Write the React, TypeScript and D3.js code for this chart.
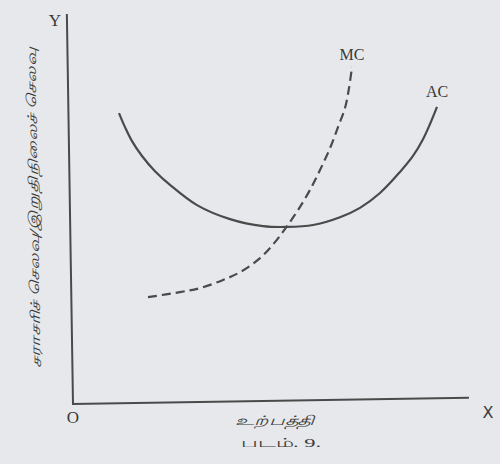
import React from "react";
import * as d3 from "d3";

// Average cost (AC) curve: [output, cost]
const acX = [11.5, 13, 14.75, 17.25, 20.5, 24.25, 31, 39.25, 47.5, 53.5, 60, 66.75, 71.75, 76.75, 81.75, 85, 87.5, 89.25, 91];
const acY = [74.6, 71.0, 67.4, 63.6, 59.7, 56.2, 51.0, 47.4, 45.6, 45.4, 45.9, 47.9, 50.3, 54.1, 59.5, 63.6, 67.9, 71.8, 76.2];
// Marginal cost (MC) curve
const mcX = [18.75, 26.75, 31.75, 37.5, 41.75, 46.75, 50.5, 53.5, 56.25, 59.25, 61.75, 64.25, 66.25, 68, 69, 69.75];
const mcY = [27.4, 28.7, 29.7, 31.8, 33.8, 37.4, 41.5, 45.6, 49.7, 54.9, 60, 65.6, 71.0, 75.9, 81.0, 86.4];

const yAxisLabel = "சராசரிச் செலவு/இறுதிநிலைச் செலவு";
const xAxisLabel = "உற்பத்தி";
const caption = "படம். 9.";

const W = 500;
const H = 464;

export default function App() {
  const x = d3.scaleLinear().domain([0, 100]).range([73, 473]);
  const y = d3.scaleLinear().domain([0, 100]).range([404, 14]);
  const line = d3
    .line<[number, number]>()
    .x((d) => x(d[0]))
    .y((d) => y(d[1]))
    .curve(d3.curveCatmullRom.alpha(0.5));
  const ac: [number, number][] = acX.map((v, i) => [v, acY[i]]);
  const mc: [number, number][] = mcX.map((v, i) => [v, mcY[i]]);
  const ink = "#4a4a4a";
  const txt = "#3a3a3a";
  const serif = "'Liberation Serif', 'DejaVu Serif', serif";
  return (
    <div style={{ position: "absolute", left: 0, top: 0 }}>
      <svg width={W} height={H} style={{ display: "block" }}>
        <rect width={W} height={H} fill="#e6e8eb" />
        {/* axes (scan is slightly rotated) */}
        <g transform={`rotate(-0.9, ${x(0)}, ${y(0)})`}>
          <line x1={x(0)} y1={y(0) + 1} x2={x(0)} y2={y(100)} stroke={ink} strokeWidth={2} />
          <line x1={x(0) - 1} y1={y(0)} x2={x(99)} y2={y(0)} stroke={ink} strokeWidth={2} />
        </g>
        {/* curves */}
        <path d={line(ac) || ""} fill="none" stroke={ink} strokeWidth={2.2} />
        <path d={line(mc) || ""} fill="none" stroke={ink} strokeWidth={2.2} strokeDasharray="9 5" />
        {/* labels */}
        <text x={55} y={26} fontFamily={serif} fontSize={17} fill={txt} textAnchor="middle">Y</text>
        <text x={73} y={423} fontFamily={serif} fontSize={17} fill={txt} textAnchor="middle">O</text>
        <text x={488} y={418} fontFamily="'DejaVu Sans', sans-serif" fontSize={16} fill={txt} textAnchor="middle">X</text>
        <text x={352} y={60} fontFamily={serif} fontSize={16} fill={txt} textAnchor="middle">MC</text>
        <text x={437} y={97} fontFamily={serif} fontSize={16} fill={txt} textAnchor="middle">AC</text>
        <text x={275} y={425} fontSize={13} fill={txt} textAnchor="middle" textLength={80} lengthAdjust="spacingAndGlyphs" fontStyle="italic">{xAxisLabel}</text>
        <text x={281} y={447} fontSize={13} fill={txt} textAnchor="middle" textLength={80} lengthAdjust="spacingAndGlyphs">{caption}</text>
        <text
          transform="translate(38,208) rotate(-90.9)"
          x={0}
          y={0}
          fontSize={13}
          fill={txt}
          textAnchor="middle"
          textLength={320}
          lengthAdjust="spacingAndGlyphs"
          fontStyle="italic"
        >
          {yAxisLabel}
        </text>
      </svg>
    </div>
  );
}
